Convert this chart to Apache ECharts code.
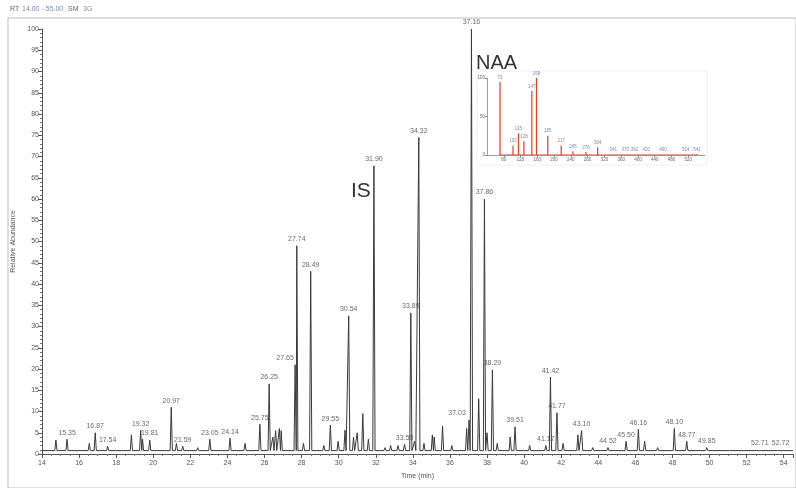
<!DOCTYPE html>
<html><head><meta charset="utf-8">
<script src="https://cdn.jsdelivr.net/npm/echarts@6/dist/echarts.min.js"></script>
<style>html,body{margin:0;padding:0;background:#fff}#c{width:796px;height:488px}</style>
</head><body><div id="c"></div>
<script>
// Chromatogram peaks: retention time (min) and relative abundance (%)
const peakTimes = [14.75,15.35,16.55,16.87,17.54,18.82,19.32,19.42,19.81,20.97,21.25,21.59,22.4,23.05,24.14,24.95,25.75,26.25,26.45,26.6,26.8,26.9,27.65,27.74,28.1,28.49,29.2,29.55,29.97,30.34,30.54,30.8,31.0,31.3,31.6,31.90,32.5,32.8,33.2,33.55,33.89,34.1,34.32,34.6,35.05,35.15,35.6,36.1,36.9,37.03,37.16,37.55,37.86,38.0,38.29,38.55,39.25,39.51,40.3,41.17,41.42,41.77,42.1,42.9,43.10,43.7,44.52,45.50,46.16,46.5,47.2,48.10,48.77,49.85,51.0,52.71,53.72];
const peakHeights = [3.3,3.5,2.5,5.0,1.8,4.5,5.6,3.5,3.3,11,2.5,1.8,1.5,3.5,3.7,2.5,7,16.5,4,5.5,6,5.5,21,49,2.5,43,2,6.8,3,5.6,32.5,4,5,9.5,3.5,67.8,1.5,2,2,2.3,33.2,3,74.5,2.5,4.5,4,6.6,2,6,8,100,13,60,5,19.8,2.5,4,6.4,2,2,18.1,9.7,2.5,4.5,5.5,1.5,1.5,3,5.8,3,1.5,6,3,1.5,1,1,1];
const baseline = 0.8;
// Labelled peaks
const labelTimes = [15.35,16.87,17.54,19.32,19.81,20.97,21.59,23.05,24.14,25.75,26.25,27.65,27.74,28.49,29.55,30.54,31.90,33.55,33.89,34.32,37.03,37.16,37.86,38.29,39.51,41.17,41.42,41.77,43.10,44.52,45.50,46.16,48.10,48.77,49.85,52.71,53.72];
const labelHeights = [3.5,5.0,1.8,5.6,3.3,11,1.8,3.5,3.7,7,16.5,21,49,43,6.8,32.5,67.8,2.3,33.2,74.5,8,100,60,19.8,6.4,2,18.1,9.7,5.5,1.5,3,5.8,6,3,1.5,1,1];
const labelTexts = ['15.35','16.87','17.54','19.32','19.81','20.97','21.59','23.05','24.14','25.75','26.25','27.65','27.74','28.49','29.55','30.54','31.90','33.55','33.89','34.32','37.03','37.16','37.86','38.29','39.51','41.17','41.42','41.77','43.10','44.52','45.50','46.16','48.10','48.77','49.85','52.71','52.72'];
const yTicks = [0,5,10,15,20,25,30,35,40,45,50,55,60,65,70,75,80,85,90,95,100];
const xTicks = [14,16,18,20,22,24,26,28,30,32,34,36,38,40,42,44,46,48,50,52,54];
// Inset mass spectrum (m/z, relative intensity %)
const msMz = [71,102,115,128,147,158,185,217,245,276,304,341,370,392,420,460,514,541];
const msInt = [95,12,28,18,83,100,25,12,5,4,10,1.2,1.2,1.2,1.2,1.2,1.2,1.2];
const msLabels = ['71','102','115','128','147','158','185','217','245','276','304','341','370','392','420','460','514','541'];

const lineData = [[14, baseline]];
const hw = 0.06;
for (let i = 0; i < peakTimes.length; i++) {
  lineData.push([peakTimes[i]-hw, baseline]);
  lineData.push([peakTimes[i], peakHeights[i]]);
  lineData.push([peakTimes[i]+hw, baseline]);
}
lineData.push([54.5, baseline]);
// label nudges (style only)
const labelNudge = {'27.65':[-10,0], '37.03':[-12,0], '52.72':[2,0]};
const labelData = labelTimes.map((t,i)=>{
  const o = {value:[t,labelHeights[i]], name:labelTexts[i]};
  if (labelNudge[labelTexts[i]]) o.label = {offset:labelNudge[labelTexts[i]]};
  return o;
});
const msData = msMz.map((m,i)=>({value:[m,msInt[i]], name:msLabels[i]}));
const msStems = [];
msMz.forEach((m,i)=>{ msStems.push([m,0],[m,msInt[i]],[m,0]); });

const font = 'Liberation Sans, Arial, sans-serif';
const chart = echarts.init(document.getElementById('c'), null, {renderer:'canvas'});
chart.setOption({
  animation:false,
  backgroundColor:'#fff',
  textStyle:{fontFamily:font},
  grid:[
    {left:42, right:0, top:29, bottom:34},
    {left:487, top:78, width:218, height:77}
  ],
  xAxis:[
    {type:'value', gridIndex:0, min:14, max:54.5, interval:2,
     axisLine:{show:true,onZero:false,lineStyle:{color:'#555',width:1}},
     axisTick:{show:true,length:4,lineStyle:{color:'#555'}},
     minorTick:{show:true,splitNumber:4,length:2,lineStyle:{color:'#777'}},
     splitLine:{show:false},
     axisLabel:{fontSize:7,color:'#555',margin:6,
       formatter:v=> xTicks.indexOf(Math.round(v))>=0 && Math.abs(v-Math.round(v))<1e-6 ? String(Math.round(v)) : ''},
     name:'Time (min)', nameLocation:'middle', nameGap:19, nameTextStyle:{fontSize:7,color:'#555'}},
    {type:'value', gridIndex:1, min:40, max:560, interval:40,
     axisLine:{show:true,lineStyle:{color:'#888',width:0.8}},
     axisTick:{show:true,length:2,lineStyle:{color:'#888'}},
     splitLine:{show:false},
     axisLabel:{fontSize:4.5,color:'#667',margin:2,showMinLabel:false,showMaxLabel:false}}
  ],
  yAxis:[
    {type:'value', gridIndex:0, min:0, max:100, interval:5,
     axisLine:{show:true,lineStyle:{color:'#555',width:1}},
     axisTick:{show:true,length:4,lineStyle:{color:'#555'}},
     minorTick:{show:true,splitNumber:5,length:2,lineStyle:{color:'#777'}},
     splitLine:{show:false},
     axisLabel:{fontSize:7,color:'#555',margin:3,
       formatter:v=> yTicks.indexOf(v)>=0 ? String(v) : ''},
     name:'Relative Abundance', nameLocation:'middle', nameGap:21, nameRotate:90,
     nameTextStyle:{fontSize:7,color:'#555'}},
    {type:'value', gridIndex:1, min:0, max:100, interval:50,
     axisLine:{show:true,lineStyle:{color:'#888',width:0.8}},
     axisTick:{show:true,length:2,lineStyle:{color:'#888'}},
     splitLine:{show:false},
     axisLabel:{fontSize:4.5,color:'#667',margin:2}}
  ],
  series:[
    {type:'line', xAxisIndex:0, yAxisIndex:0, data:lineData, showSymbol:false, symbol:'none',
     lineStyle:{color:'#3a3a3a',width:1}, z:3},
    {type:'scatter', xAxisIndex:0, yAxisIndex:0, data:labelData, symbolSize:0,
     label:{show:true, position:'top', distance:3, formatter:p=>p.name, fontSize:7, color:'#444'}, z:4},
    {type:'line', xAxisIndex:1, yAxisIndex:1, data:msStems, showSymbol:false, symbol:'none',
     lineStyle:{color:'#e2401f',width:1.2}, z:12},
    {type:'scatter', xAxisIndex:1, yAxisIndex:1, data:msData, symbolSize:0,
     label:{show:true, position:'top', distance:2, formatter:p=>p.name, fontSize:4.5, color:'#5a6a9a'}, z:13}
  ],
  graphic:[
    {type:'rect', z:-1, shape:{x:8,y:18,width:788,height:470}, style:{fill:'none',stroke:'#bbb',lineWidth:1}},
    {type:'rect', z:0, shape:{x:477,y:71,width:230,height:94}, style:{fill:'#fff',stroke:'#eee',lineWidth:1}},
    {type:'text', left:10, top:6, style:{text:'RT', fontSize:7, fill:'#666', fontFamily:font}},
    {type:'text', left:22, top:6, style:{text:'14.00 - 55.00', fontSize:7, fill:'#7a8ab8', fontFamily:font}},
    {type:'text', left:68, top:6, style:{text:'SM', fontSize:7, fill:'#666', fontFamily:font}},
    {type:'text', left:83, top:6, style:{text:'3G', fontSize:7, fill:'#7a8ab8', fontFamily:font}},
    {type:'text', left:351, top:181, style:{text:'IS', fontSize:21, fill:'#333', fontFamily:font}},
    {type:'text', left:476, top:53, style:{text:'NAA', fontSize:20, fill:'#333', fontFamily:font}}
  ]
});
</script></body></html>
